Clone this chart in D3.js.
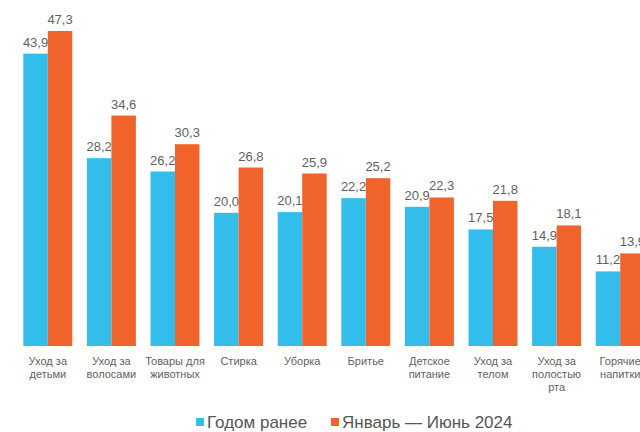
<!DOCTYPE html>
<html><head><meta charset="utf-8">
<script src="https://cdn.jsdelivr.net/npm/d3@7"></script>
<style>
html,body{margin:0;padding:0;background:#fff;}
svg{display:block;font-family:"Liberation Sans",Arial,sans-serif;}
</style></head>
<body><svg id="chart" width="640" height="432"></svg>
<script>
const categories = ["Уход за|детьми","Уход за|волосами","Товары для|животных","Стирка","Уборка","Бритье","Детское|питание","Уход за|телом","Уход за|полостью|рта","Горячие|напитки"];
const seriesNames = ["Годом ранее","Январь — Июнь 2024"];
const prevYear = [43.9,28.2,26.2,20.0,20.1,22.2,20.9,17.5,14.9,11.2];
const current = [47.3,34.6,30.3,26.8,25.9,25.2,22.3,21.8,18.1,13.9];
const colors = ["#33BDEB","#F0632A"];

const svg = d3.select("#chart");
const x = d3.scaleBand().domain(categories).range([16, 652]).paddingInner(0.23).paddingOuter(0.115);
const xs = d3.scaleBand().domain([0,1]).range([0, x.bandwidth()]);
const y = d3.scaleLinear().domain([0,50]).range([346, 13]);
const fmt = v => d3.format(".1f")(v).replace(".", ",");

const series = [prevYear, current];
series.forEach((vals, si) => {
  const g = svg.append("g");
  g.selectAll("rect").data(vals).enter().append("rect")
    .attr("x", (d,i) => x(categories[i]) + xs(si))
    .attr("y", d => y(d))
    .attr("width", xs.bandwidth())
    .attr("height", d => y(0) - y(d))
    .attr("fill", colors[si]);
  g.selectAll("text").data(vals).enter().append("text")
    .attr("x", (d,i) => x(categories[i]) + xs(si) + xs.bandwidth()/2)
    .attr("y", d => y(d) - 7)
    .attr("text-anchor","middle")
    .attr("font-size", 13)
    .attr("fill", "#5f5f5f")
    .text(d => fmt(d));
});

const ax = svg.append("g").attr("transform", `translate(0,${y(0)})`)
  .call(d3.axisBottom(x).tickSize(0).tickPadding(0));
ax.select(".domain").remove();
ax.selectAll(".tick text").each(function(d){
  const t = d3.select(this);
  t.text(null).attr("y", 0).attr("dy", null)
   .attr("font-size", 11).attr("fill", "#5f5f5f")
   .attr("font-family", "'Liberation Sans',Arial,sans-serif");
  d.split("|").forEach((line, li) => {
    t.append("tspan").attr("x", 0).attr("y", 19 + li*13).text(line);
  });
});

const legend = svg.append("g");
const legItems = [{x:196, name: seriesNames[0], c: colors[0]}, {x:331, name: seriesNames[1], c: colors[1]}];
legItems.forEach(it => {
  legend.append("rect").attr("x", it.x).attr("y", 418).attr("width", 8).attr("height", 8).attr("fill", it.c);
  legend.append("text").attr("x", it.x + 11).attr("y", 428)
    .attr("font-size", 17).attr("fill", "#555").text(it.name);
});
</script></body></html>
